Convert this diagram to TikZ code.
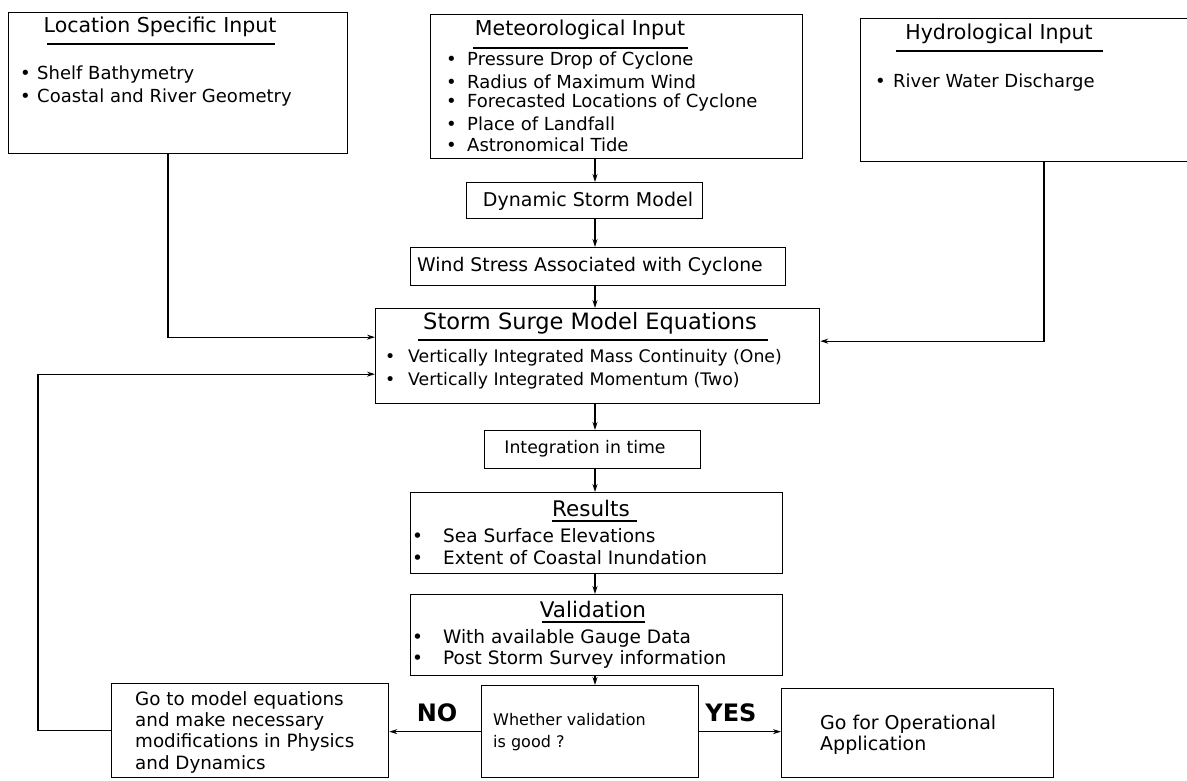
\documentclass[tikz,border=0pt]{standalone}
\usepackage{fontspec}
\setmainfont{DejaVu Sans}
\usetikzlibrary{arrows.meta}
\newcommand\mkbox[5]{\node[box,anchor=north west,minimum width={(#4-#2)*1pt},minimum height={(#5-#3)*1pt}] (#1) at (#2,#3) {};}
\newcommand\bl[1]{\makebox[#1pt][l]{\textbullet}}
\tikzset{
  box/.style={draw, line width=1.3pt, inner sep=0pt},
  arr/.style={line width=1.1pt, -{Stealth[length=8pt,width=5pt]}},
  uline/.style={line width=1.1pt},
  ttl/.style={font=\fontsize{20.5}{24}\selectfont, inner sep=0pt},
  itm/.style={font=\fontsize{18}{21}\selectfont, inner sep=0pt, anchor=west},
  sitm/.style={font=\fontsize{17.3}{20}\selectfont, inner sep=0pt, anchor=west},
  lbl/.style={font=\bfseries\fontsize{24}{28}\selectfont, inner sep=0pt}
}
\begin{document}
\begin{tikzpicture}[x=1pt,y=-1pt]
\useasboundingbox (0,0) rectangle (1187,780);
% boxes
\mkbox{loc}{8}{12}{347}{153}
\mkbox{met}{430}{14}{802}{158}
\mkbox{hyd}{860}{18}{1200}{161}
\mkbox{dyn}{466}{182}{702}{218}
\mkbox{wind}{410}{247}{785}{285}
\mkbox{ssm}{375}{308}{819}{403}
\mkbox{integ}{484}{430}{700}{468}
\mkbox{res}{410}{492}{782}{573}
\mkbox{val}{410}{594}{782}{675}
\mkbox{goto}{111}{683}{388}{777}
\mkbox{whether}{481}{685}{698}{777}
\mkbox{oper}{781}{688}{1053}{777}
% location input
\node[ttl] (loct) at (160,27) {Location Specific Input};
\draw[uline] (47,44) -- (275,44);
\node[itm] (loc1) at (20,75) {\bl{17}Shelf Bathymetry};
\node[itm] (loc2) at (20,98) {\bl{17}Coastal and River Geometry};
% meteorological input
\node[ttl] (mett) at (580,30) {Meteorological Input};
\draw[uline] (473,48) -- (688,48);
\node[itm] (met1) at (446,61) {\bl{21}Pressure Drop of Cyclone};
\node[itm] (met2) at (446,82) {\bl{21}Radius of Maximum Wind};
\node[itm] (met3) at (446,103) {\bl{21}Forecasted Locations of Cyclone};
\node[itm] (met4) at (446,124) {\bl{21}Place of Landfall};
\node[itm] (met5) at (446,145) {\bl{21}Astronomical Tide};
% hydrological input
\node[ttl] (hydt) at (999,34) {Hydrological Input};
\draw[uline] (896,51) -- (1103,51);
\node[itm] (hyd1) at (875,83) {\bl{18}River Water Discharge};
% dynamic storm model, wind stress
\node[ttl, font=\fontsize{19}{22}\selectfont] (dynt) at (588,201) {Dynamic Storm Model};
\node[itm, anchor=center, font=\fontsize{18.8}{22}\selectfont] (windt) at (590,266) {Wind Stress Associated with Cyclone};
% storm surge model
\node[ttl, font=\fontsize{22.5}{26}\selectfont] (ssmt) at (590,323) {Storm Surge Model Equations};
\draw[uline] (418,340) -- (768,340);
\node[sitm] (ssm1) at (385,358) {\bl{23}Vertically Integrated Mass Continuity (One)};
\node[sitm] (ssm2) at (385,381) {\bl{23}Vertically Integrated Momentum (Two)};
% integration
\node[sitm, anchor=center] (integt) at (585,449) {Integration in time};
% results
\node[ttl, font=\fontsize{21.5}{24}\selectfont] (rest) at (591,508) {Results};
\draw[uline] (552,521) -- (637,521);
\node[itm, font=\fontsize{18.5}{21}\selectfont] (res1) at (412,536) {\bl{31}Sea Surface Elevations};
\node[itm, font=\fontsize{18.5}{21}\selectfont] (res2) at (412,558) {\bl{31}Extent of Coastal Inundation};
% validation
\node[ttl, font=\fontsize{21.5}{24}\selectfont] (valt) at (593,609) {Validation};
\draw[uline] (542,622) -- (645,622);
\node[itm, font=\fontsize{18.5}{21}\selectfont] (val1) at (412,638) {\bl{31}With available Gauge Data};
\node[itm, font=\fontsize{18.5}{21}\selectfont] (val2) at (412,659) {\bl{31}Post Storm Survey information};
% bottom row
\node[itm, anchor=north west, align=left, font=\fontsize{18.3}{21.3}\selectfont] (gotot) at (135,691) {Go to model equations\\and make necessary\\modifications in Physics\\and Dynamics};
\node[sitm, anchor=north west, align=left, font=\fontsize{16}{22}\selectfont] (whethert) at (493,713) {Whether validation\\is good ?};
\node[itm, anchor=north west, align=left, font=\fontsize{19}{21}\selectfont] (opert) at (820,715) {Go for Operational\\Application};
\node[lbl] (no) at (437,713) {NO};
\node[lbl] (yes) at (731,713) {YES};
% connectors
\coordinate (axis) at (595,0);
\coordinate (locx) at (168,0);
\coordinate (hydx) at (1044,0);
\coordinate (fbx) at (38,0);
\coordinate (fbin) at ([yshift=-18pt]ssm.west);
\draw[arr] (met.south -| axis) -- (dyn.north -| axis);
\draw[arr] (dyn.south -| axis) -- (wind.north -| axis);
\draw[arr] (wind.south -| axis) -- (ssm.north -| axis);
\draw[arr] (ssm.south -| axis) -- (integ.north -| axis);
\draw[arr] (integ.south -| axis) -- (res.north -| axis);
\draw[arr] (res.south -| axis) -- (val.north -| axis);
\draw[arr] (val.south -| axis) -- (whether.north -| axis);
\draw[arr] (loc.south -| locx) |- ([yshift=19pt]ssm.west);
\draw[arr] (hyd.south -| hydx) |- ([yshift=15pt]ssm.east);
\draw[arr] (goto.west) -| (fbx |- fbin) -- (fbin);
\draw[arr] (whether.west) -- (whether.west -| goto.east);
\draw[arr] (whether.east) -- (whether.east -| oper.west);
\end{tikzpicture}
\end{document}
